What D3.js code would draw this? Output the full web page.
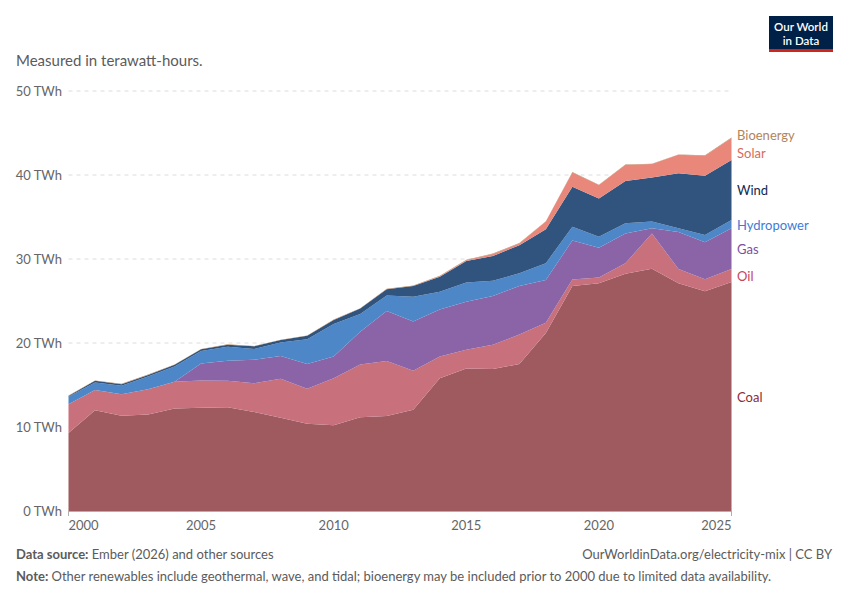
<!DOCTYPE html>
<html>
<head>
<meta charset="utf-8">
<script src="https://cdn.jsdelivr.net/npm/d3@7"></script>
<style>
  html, body { margin: 0; padding: 0; background: #fff; }
  svg { font-family: Lato, "Noto Sans", sans-serif; }
</style>
</head>
<body>
<svg id="chart" width="850" height="600"></svg>
<script>
const years = d3.range(2000, 2026);
const coal  = [9.3,12.0,11.35,11.5,12.2,12.3,12.35,11.8,11.1,10.4,10.2,11.15,11.3,12.05,15.8,16.95,16.9,17.5,21.2,26.8,27.1,28.25,28.85,27.1,26.15,27.25];
const oil   = [3.4,2.4,2.55,3.0,3.2,3.25,3.15,3.4,4.65,4.15,5.6,6.3,6.55,4.65,2.6,2.25,2.9,3.5,1.2,0.75,0.7,1.25,4.2,1.7,1.45,1.55];
const gas   = [0,0,0,0,0,2.0,2.4,2.8,2.7,2.95,2.6,3.9,5.95,5.85,5.6,5.7,5.8,5.8,5.1,4.65,3.55,3.55,0.6,4.4,4.4,4.85];
const hydro = [0.9,0.9,1.0,1.5,1.8,1.5,1.65,1.3,1.6,2.95,3.85,2.1,1.85,2.95,2.1,2.3,1.8,1.5,2.0,1.65,1.3,1.2,0.8,0.45,0.85,1.0];
const wind  = [0.1,0.2,0.2,0.2,0.2,0.2,0.25,0.3,0.3,0.4,0.5,0.65,0.75,1.3,1.8,2.55,2.95,3.35,4.05,4.75,4.55,5.05,5.25,6.55,7.05,7.15];
const solar = [0,0,0,0,0,0,0,0,0,0,0,0,0,0,0.05,0.1,0.25,0.2,0.9,1.7,1.6,1.9,1.6,2.2,2.4,2.6];
const bio   = [0.05,0.05,0.05,0.05,0.05,0.05,0.05,0.05,0.05,0.05,0.05,0.05,0.05,0.05,0.05,0.05,0.05,0.05,0.05,0.05,0.05,0.05,0.05,0.05,0.05,0.05];

const seriesNames = ["Coal","Oil","Gas","Hydropower","Wind","Solar","Bioenergy"];
const seriesValues = [coal, oil, gas, hydro, wind, solar, bio];
const yTicks = [0,10,20,30,40,50];
const xTicks = [2000,2005,2010,2015,2020,2025];

const fillColors = {Coal:"#9e5a5f", Oil:"#c9707d", Gas:"#8a64a6", Hydropower:"#4e87c8", Wind:"#30547e", Solar:"#e8877a", Bioenergy:"#b5835a"};
const labelColors = {Coal:"#8c2a3a", Oil:"#c8455e", Gas:"#7d4f9e", Hydropower:"#3b7dd8", Wind:"#0d2a52", Solar:"#da6a5a", Bioenergy:"#b1845c"};

const table = years.map((y, i) => {
  const row = {year: y};
  seriesNames.forEach((n, k) => row[n] = seriesValues[k][i]);
  return row;
});

const svg = d3.select("#chart");
const x = d3.scaleLinear().domain([2000, 2025]).range([68.5, 731.5]);
const y = d3.scaleLinear().domain([0, 50]).range([511, 91]);

// subtitle
svg.append("text").attr("x", 16).attr("y", 66).attr("font-size", 15).attr("fill", "#5b5b5b").text("Measured in terawatt-hours.");

// grid
const grid = svg.append("g");
yTicks.forEach(t => {
  if (t > 0) {
    grid.append("line").attr("x1", 68.5).attr("x2", 731.5).attr("y1", y(t)).attr("y2", y(t))
      .attr("stroke", "#dcdcdc").attr("stroke-dasharray", "4,4").attr("stroke-width", 1);
  }
  grid.append("text").attr("x", 62).attr("y", y(t)).attr("dy", "0.35em").attr("text-anchor", "end")
    .attr("font-size", 13).attr("fill", "#666").text(t + " TWh");
});

// stacked areas
const stack = d3.stack().keys(seriesNames);
const layers = stack(table);
const area = d3.area().x(d => x(d.data.year)).y0(d => y(d[0])).y1(d => y(d[1]));
svg.append("g").selectAll("path").data(layers).join("path")
  .attr("d", area).attr("fill", d => fillColors[d.key]);

// x axis
svg.append("line").attr("x1", 68.5).attr("x2", 731.5).attr("y1", 511.5).attr("y2", 511.5).attr("stroke", "#b0b0b0");
[2000, 2025].forEach(t => {
  svg.append("line").attr("x1", x(t)).attr("x2", x(t)).attr("y1", 511).attr("y2", 516).attr("stroke", "#b0b0b0");
});
xTicks.forEach((t, i) => {
  const anchor = i === 0 ? "start" : (i === xTicks.length - 1 ? "end" : "middle");
  svg.append("text").attr("x", x(t)).attr("y", 530).attr("text-anchor", anchor)
    .attr("font-size", 13).attr("fill", "#666").text(t);
});

// series labels at right, positioned at layer midpoints with collision avoidance
const last = layers.map(l => ({key: l.key, v: (l[l.length-1][0] + l[l.length-1][1]) / 2}));
let pos = last.map(d => ({key: d.key, y: y(d.v)}));
pos.sort((a, b) => a.y - b.y);
const gap = 18;
for (let iter = 0; iter < 50; iter++) {
  for (let i = 1; i < pos.length; i++) {
    const overlap = gap - (pos[i].y - pos[i-1].y);
    if (overlap > 0) { pos[i-1].y -= overlap / 2; pos[i].y += overlap / 2; }
  }
}
pos.forEach(p => {
  svg.append("text").attr("x", 737).attr("y", p.y + 1).attr("dy", "0.35em")
    .attr("font-size", 13).attr("fill", labelColors[p.key]).text(p.key);
});

// logo
const logo = svg.append("g");
logo.append("rect").attr("x", 769).attr("y", 16).attr("width", 64).attr("height", 36).attr("fill", "#002147");
logo.append("rect").attr("x", 769).attr("y", 49).attr("width", 64).attr("height", 3).attr("fill", "#ce261e");
logo.append("text").attr("x", 801).attr("y", 30.5).attr("text-anchor", "middle").attr("font-size", 11.5).attr("font-weight", 600).attr("fill", "#fff").text("Our World");
logo.append("text").attr("x", 801).attr("y", 44.5).attr("text-anchor", "middle").attr("font-size", 11.5).attr("font-weight", 600).attr("fill", "#fff").text("in Data");

// footer
const f1 = svg.append("text").attr("x", 16).attr("y", 559).attr("font-size", 13).attr("fill", "#5b5b5b");
f1.append("tspan").attr("font-weight", 700).text("Data source:");
f1.append("tspan").text(" Ember (2026) and other sources");
svg.append("text").attr("x", 832).attr("y", 559).attr("text-anchor", "end").attr("font-size", 13).attr("fill", "#5b5b5b")
  .text("OurWorldinData.org/electricity-mix | CC BY");
const f2 = svg.append("text").attr("x", 16).attr("y", 581).attr("font-size", 13).attr("fill", "#5b5b5b");
f2.append("tspan").attr("font-weight", 700).text("Note:");
f2.append("tspan").text(" Other renewables include geothermal, wave, and tidal; bioenergy may be included prior to 2000 due to limited data availability.");
</script>
</body>
</html>
